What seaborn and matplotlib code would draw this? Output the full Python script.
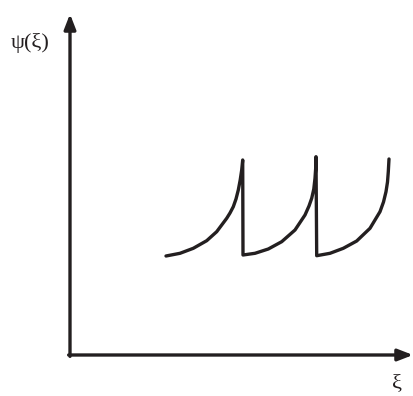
import matplotlib
matplotlib.use("Agg")
import matplotlib.pyplot as plt
import pandas as pd
import seaborn as sns

# Sawtooth-like response: three rising branches, each dropping back to the base level
xi = [9.6, 11.0, 12.33, 13.67, 14.67, 15.67, 16.0, 16.33, 16.6, 16.83, 17.02, 17.17, 17.27,
      17.3,
      18.5, 19.83, 21.17, 22.5, 23.5, 23.9, 24.17, 24.38, 24.5, 24.57, 24.6,
      24.67,
      26.0, 27.33, 28.67, 30.0, 31.0, 31.35, 31.6, 31.75, 31.83, 31.9]
psi = [9.9, 10.17, 10.67, 11.43, 12.33, 13.67, 14.2, 14.83, 15.6, 16.5, 17.5, 18.5, 19.5,
       10.0,
       10.17, 10.6, 11.33, 12.5, 14.0, 14.9, 15.67, 16.6, 17.67, 18.7, 19.83,
       9.93,
       10.17, 10.67, 11.4, 12.67, 14.33, 15.3, 16.33, 17.3, 18.33, 19.6]

x_label = "ξ"
y_label = "ψ(ξ)"

sns.set_style("white")
plt.rcParams["font.family"] = ["Liberation Serif", "DejaVu Serif"]

ink = "#231f20"
fig = plt.figure(figsize=(4.13, 3.96), dpi=100)
ax = fig.add_axes([70 / 413, 41 / 396, 343 / 413, 341 / 396])

df = pd.DataFrame({"xi": xi, "psi": psi})
sns.lineplot(data=df, x="xi", y="psi", sort=False, estimator=None,
             color=ink, linewidth=2.4, ax=ax)

ax.set_xlim(0, 34.3)
ax.set_ylim(0, 34.1)
ax.set_xticks([])
ax.set_yticks([])
ax.set_xlabel("")
ax.set_ylabel("")
for s in ax.spines.values():
    s.set_visible(False)

# Coordinate axes with arrowheads
arrow = dict(arrowstyle="-|>,head_length=0.9,head_width=0.35", color=ink,
             lw=2.4, shrinkA=0, shrinkB=0)
ax.annotate("", xy=(1.0, 0.0), xytext=(-0.004, 0.0), xycoords="axes fraction",
            arrowprops=arrow, annotation_clip=False)
ax.annotate("", xy=(0.0, 1.0), xytext=(0.0, -0.004), xycoords="axes fraction",
            arrowprops=arrow, annotation_clip=False)

fig.text(30 / 413, 1 - 43 / 396, y_label, fontsize=16, color=ink,
         ha="center", va="center")
fig.text(397 / 413, 1 - 384 / 396, x_label, fontsize=16, color=ink,
         ha="center", va="center")

fig.savefig("out.png", dpi=100)
